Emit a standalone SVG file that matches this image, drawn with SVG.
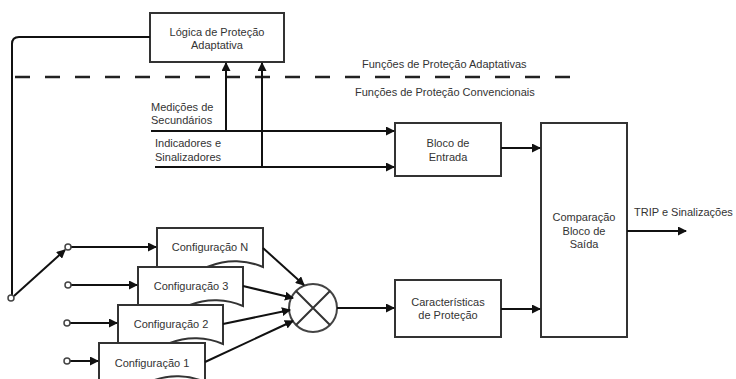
<svg xmlns="http://www.w3.org/2000/svg" width="736" height="379" viewBox="0 0 736 379">
<style>
text{font-family:"Liberation Sans",Arial,sans-serif;font-size:11px;fill:#333}
.c{text-anchor:middle}
.box{fill:#fff;stroke:#333;stroke-width:2}
.ln{fill:none;stroke:#111;stroke-width:2}
.dash{fill:none;stroke:#222;stroke-width:2.5;stroke-dasharray:15 15}
.sw{fill:#fff;stroke:#444;stroke-width:1.5}
</style>
<defs>
<marker id="ah" markerUnits="userSpaceOnUse" markerWidth="9" markerHeight="9" refX="8" refY="4.5" orient="auto">
<path d="M0,0 L9,4.5 L0,9 z" fill="#111"/>
</marker>
</defs>
<rect width="736" height="379" fill="#fff"/>

<g id="separator">
<path class="dash" d="M15 77 H580"/>
<text x="362" y="68">Funções de Proteção Adaptativas</text>
<text x="355" y="96">Funções de Proteção Convencionais</text>
</g>

<g id="logica">
<rect class="box" x="150" y="13" width="134" height="49"/>
<text class="c" x="217" y="36">Lógica de Proteção</text>
<text class="c" x="217" y="49">Adaptativa</text>
</g>

<g id="labels">
<text x="151" y="111">Medições de</text>
<text x="151" y="124">Secundários</text>
<text x="155" y="147">Indicadores e</text>
<text x="155" y="161">Sinalizadores</text>
<text x="634" y="216">TRIP e Sinalizações</text>
</g>

<g id="bloco-entrada">
<rect class="box" x="395" y="123" width="106" height="53"/>
<text class="c" x="448" y="147">Bloco de</text>
<text class="c" x="448" y="161">Entrada</text>
</g>

<g id="comparacao">
<rect class="box" x="541" y="123" width="86" height="214"/>
<text class="c" x="584" y="221">Comparação</text>
<text class="c" x="584" y="235">Bloco de</text>
<text class="c" x="584" y="248">Saída</text>
</g>

<g id="caracteristicas">
<rect class="box" x="395" y="280" width="106" height="57"/>
<text class="c" x="448" y="306">Características</text>
<text class="c" x="448" y="319">de Proteção</text>
</g>

<g id="multiplicador">
<circle cx="313" cy="308" r="24" fill="#fff" stroke="#444" stroke-width="2"/>
<path d="M296 291 L330 325 M330 291 L296 325" stroke="#333" stroke-width="2"/>
</g>

<g id="configN">
<path class="box" d="M157 228 H263 V267 C247 260 227 259 210 266 C192 273 172 275 157 270 Z"/>
<text class="c" x="210" y="251">Configuração N</text>
</g>
<g id="config3">
<path class="box" d="M138 267 H243 V306 C227 299 207 298 190 305 C172 312 152 314 138 309 Z"/>
<text class="c" x="191" y="290">Configuração 3</text>
</g>
<g id="config2">
<path class="box" d="M118 305 H223 V344 C207 337 187 336 170 343 C152 350 132 352 118 347 Z"/>
<text class="c" x="171" y="328">Configuração 2</text>
</g>
<g id="config1">
<path class="box" d="M99 343 H205 V382 C189 375 169 374 152 381 C134 388 114 390 99 385 Z"/>
<text class="c" x="152" y="367">Configuração 1</text>
</g>

<g id="connectors">
<path class="ln" d="M150 37 H19 Q12 37 12 44 V296"/>
<path class="ln" d="M151 131 H394" marker-end="url(#ah)"/>
<path class="ln" d="M155 167 H394" marker-end="url(#ah)"/>
<path class="ln" d="M226 131 V63" marker-end="url(#ah)"/>
<path class="ln" d="M262 167 V63" marker-end="url(#ah)"/>
<path class="ln" d="M501 148 H540" marker-end="url(#ah)"/>
<path class="ln" d="M627 231 H686" marker-end="url(#ah)"/>
<path class="ln" d="M501 309 H540" marker-end="url(#ah)"/>
<path class="ln" d="M337 308 H394" marker-end="url(#ah)"/>
<path class="ln" d="M14 296 L65 250" marker-end="url(#ah)"/>
<path class="ln" d="M71 247 H156" marker-end="url(#ah)"/>
<path class="ln" d="M71 285 H137" marker-end="url(#ah)"/>
<path class="ln" d="M70 323 H117" marker-end="url(#ah)"/>
<path class="ln" d="M70 361 H98" marker-end="url(#ah)"/>
<path class="ln" d="M263 248 L304 285" marker-end="url(#ah)"/>
<path class="ln" d="M243 286 L293 298" marker-end="url(#ah)"/>
<path class="ln" d="M223 324 L290 310" marker-end="url(#ah)"/>
<path class="ln" d="M205 362 L293 321" marker-end="url(#ah)"/>
<circle class="sw" cx="11" cy="298" r="3"/>
<circle class="sw" cx="68" cy="247" r="3"/>
<circle class="sw" cx="68" cy="285" r="3"/>
<circle class="sw" cx="67" cy="323" r="3"/>
<circle class="sw" cx="67" cy="361" r="3"/>
</g>
</svg>
